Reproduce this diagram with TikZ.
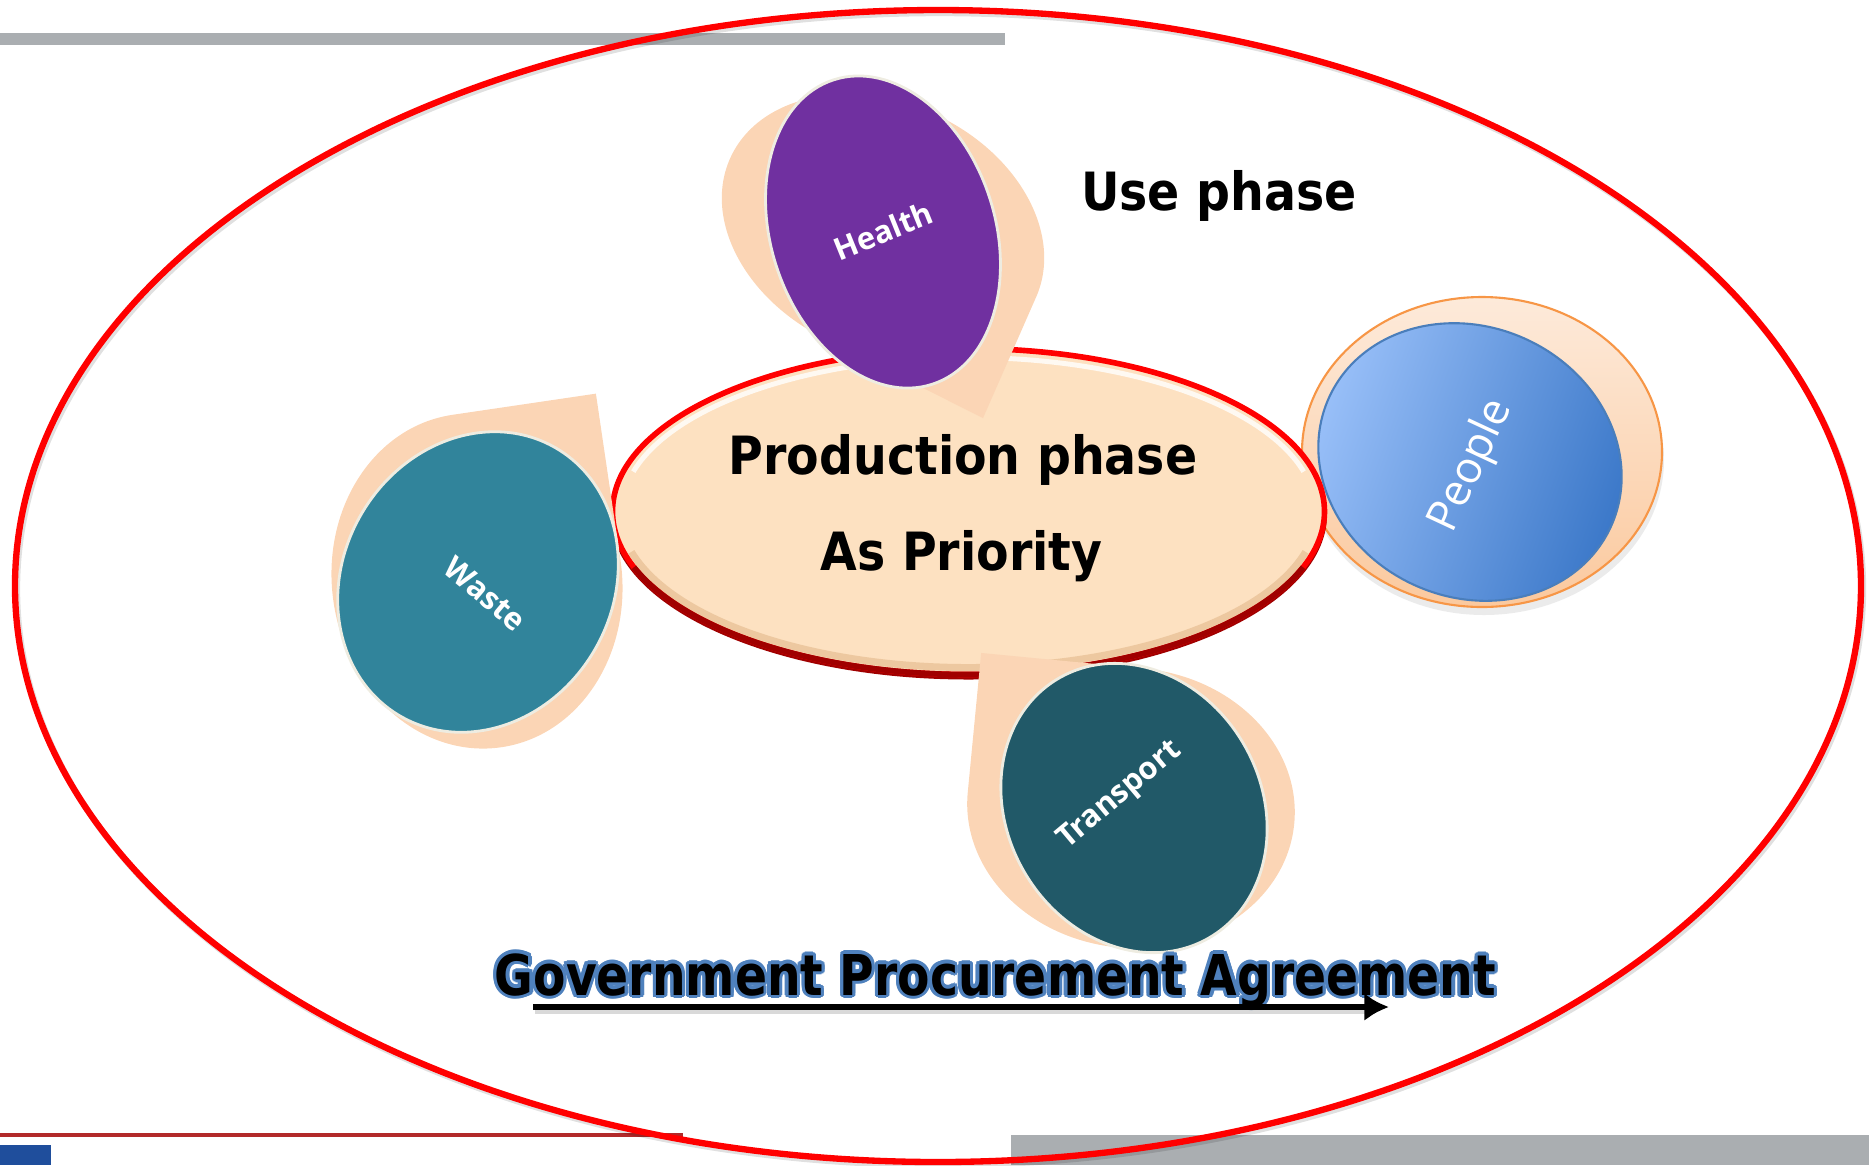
\documentclass[tikz,border=0pt]{standalone}
\usepackage{fontspec}
\usepackage{contour}
\usetikzlibrary{arrows.meta}
\setmainfont{DejaVu Sans}
\newfontfamily\tahomab{DejaVu Sans Bold}[FakeStretch=0.9]
\newfontfamily\govfont{DejaVu Sans Bold}[FakeStretch=0.84]
\newfontfamily\bubblefont{Open Sans}
\definecolor{peach}{HTML}{FBD5B5}
\definecolor{healthpurple}{HTML}{7030A0}
\definecolor{wasteteal}{HTML}{31849B}
\definecolor{transportteal}{HTML}{215968}
\definecolor{prodfill}{HTML}{FDE1C1}
\definecolor{rimred}{HTML}{FF0000}
\definecolor{rimdark}{HTML}{A00000}
\definecolor{bargrey}{HTML}{AAAEB1}
\definecolor{linered}{HTML}{B22A2A}
\definecolor{peoplelight}{HTML}{9CC2FA}
\definecolor{peopledark}{HTML}{3A77C8}
\definecolor{peopleedge}{HTML}{4A7EBB}
\definecolor{peopletop}{HTML}{FDEADA}
\definecolor{peoplebottom}{HTML}{FBC99E}
\definecolor{ringorange}{HTML}{F79646}
\definecolor{glowblue}{HTML}{4F81BD}
\definecolor{logoblue}{HTML}{1F4E9C}
\definecolor{bubbleedge}{HTML}{EEECE1}
\contourlength{0.9pt}
\tikzset{
  bubble/.style={draw=bubbleedge,line width=0.8pt},
  bubblelabel/.style={text=white,inner sep=0pt,font=\bubblefont\bfseries\fontsize{8.8pt}{10pt}\selectfont},
  phase/.style={anchor=base,inner sep=0pt,font=\tahomab\fontsize{15pt}{18pt}\selectfont},
  gpaarrow/.style={->,line width=1.8pt}
}
\begin{document}
\begin{tikzpicture}[line join=round,>={Latex[length=7pt,width=8pt]}]
\useasboundingbox (0,0) rectangle (18.69,-11.65);
% slide frame
\fill[bargrey](0,-0.33) rectangle (10.05,-0.45);
\fill[bargrey](10.11,-11.35) rectangle (18.69,-11.65);
\draw[linered,line width=1.4pt](0,-11.35)--(6.83,-11.35);
\fill[logoblue](0,-11.45) rectangle (0.51,-11.65);
\draw[black,opacity=0.12,line width=1.8pt](9.40,-5.89) ellipse[x radius=9.23,y radius=5.76];
\draw[rimred,line width=1.8pt](9.38,-5.86) ellipse[x radius=9.23,y radius=5.76];

% people
\fill[black,opacity=0.08](14.84,-4.60) ellipse[x radius=1.80,y radius=1.55];
\shade[top color=peopletop,bottom color=peoplebottom](14.82,-4.52) ellipse[x radius=1.80,y radius=1.55];
\draw[ringorange,line width=0.6pt](14.82,-4.52) ellipse[x radius=1.80,y radius=1.55];
\shade[left color=peoplelight,right color=peopledark,shading angle=70,rotate around={-25:(14.70,-4.62)}](14.70,-4.62) ellipse[x radius=1.55,y radius=1.35];
\draw[peopleedge,line width=0.6pt,rotate around={-25:(14.70,-4.62)}](14.70,-4.62) ellipse[x radius=1.55,y radius=1.35];
\node[text=white,inner sep=0pt,rotate=65,font=\bubblefont\fontsize{12.5pt}{14pt}\selectfont] (people) at (14.72,-4.66) {People};

% production phase
\fill[rimdark](9.685,-5.145) ellipse[x radius=3.585,y radius=1.65];
\draw[rimred,line width=1.6pt,fill=prodfill](9.685,-5.115) ellipse[x radius=3.56,y radius=1.63];
\draw[rimdark,line width=1.6pt](9.685,-5.115) ++(200:3.56 and 1.63) arc[start angle=200,end angle=340,x radius=3.56,y radius=1.63];
\draw[white,line width=1.4pt,opacity=0.8](9.685,-5.115) ++(165:3.47 and 1.54) arc[start angle=165,end angle=15,x radius=3.47,y radius=1.54];
\draw[brown,line width=2pt,opacity=0.25](9.685,-5.115) ++(195:3.49 and 1.56) arc[start angle=195,end angle=345,x radius=3.49,y radius=1.56];
\node[phase] (prod1) at (9.63,-4.74) {Production phase};
\node[phase] (prod2) at (9.615,-5.70) {As Priority};
\node[phase] (use) at (12.19,-2.10) {Use phase};

% waste
\begin{scope}[shift={(4.77,-5.81)},rotate=8.4]
  \fill[peach](1.45,1.68)--(0,1.68) arc[start angle=90,end angle=360,x radius=1.45,y radius=1.68]--cycle;
\end{scope}
\draw[bubble,fill=wasteteal,rotate around={-30:(4.78,-5.82)}](4.78,-5.82) ellipse[x radius=1.35,y radius=1.55];
\node[bubblelabel,rotate=-40] (waste) at (4.85,-5.94) {Waste};

% health
\begin{scope}[shift={(8.83,-2.28)},rotate=-25]
  \fill[peach](1.71,-1.30)--(1.68,0) arc[start angle=0,end angle=270,x radius=1.68,y radius=1.25]--cycle;
\end{scope}
\draw[bubble,fill=healthpurple,rotate around={18:(8.83,-2.32)}](8.83,-2.32) ellipse[x radius=1.12,y radius=1.60];
\node[bubblelabel,rotate=22] (health) at (8.83,-2.31) {Health};

% transport
\begin{scope}[shift={(11.31,-8.08)},rotate=-5.5]
  \fill[peach](-1.64,1.40)--(-1.64,0) arc[start angle=180,end angle=450,x radius=1.64,y radius=1.40]--cycle;
\end{scope}
\draw[bubble,fill=transportteal,rotate around={30:(11.34,-8.08)}](11.34,-8.08) ellipse[x radius=1.27,y radius=1.50];
\node[bubblelabel,rotate=40] (transport) at (11.20,-7.96) {Transport};

% agreement
\node[anchor=base,inner sep=0pt,font=\govfont\fontsize{16pt}{19pt}\selectfont] (gpa) at (9.955,-9.95) {\contour{glowblue}{Government Procurement Agreement}};
\coordinate (gpaS) at (5.33,-10.07);
\coordinate (gpaE) at (13.89,-10.07);
\draw[black,opacity=0.15,line width=1.8pt](5.35,-10.11)--(13.70,-10.11);
\draw[gpaarrow](gpaS)--(gpaE);
\end{tikzpicture}
\end{document}
